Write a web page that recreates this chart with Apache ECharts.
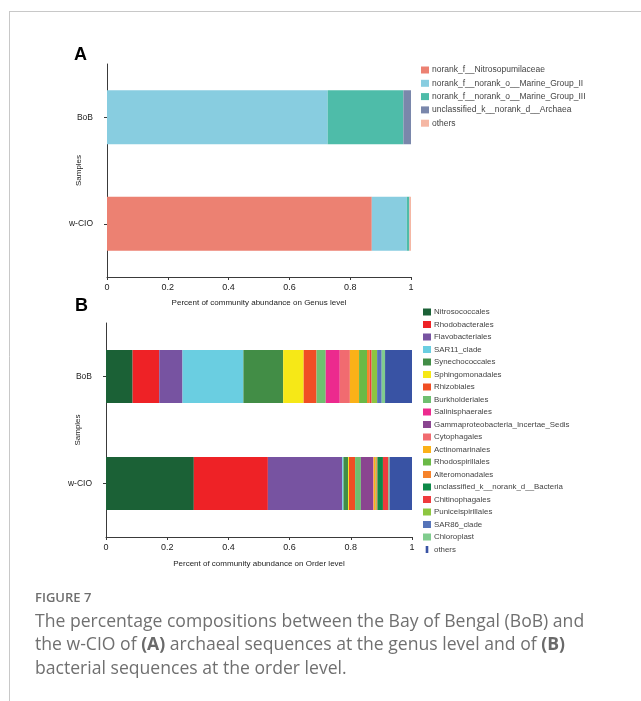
<!DOCTYPE html>
<html>
<head>
<meta charset="utf-8">
<script src="https://cdn.jsdelivr.net/npm/echarts@6/dist/echarts.min.js"></script>
<style>
  html, body { margin: 0; padding: 0; background: #fff; }
  #chart { width: 641px; height: 701px; }
</style>
</head>
<body>
<div id="chart"></div>
<script>
// Samples shown on both panels (top to bottom)
const samples = ['BoB', 'w-CIO'];
const xTicks = [0, 0.2, 0.4, 0.6, 0.8, 1];

// Panel A: archaeal genera, fraction of community per sample [BoB, w-CIO]
const genusNames = [
  'norank_f__Nitrosopumilaceae',
  'norank_f__norank_o__Marine_Group_II',
  'norank_f__norank_o__Marine_Group_III',
  'unclassified_k__norank_d__Archaea',
  'others'
];
const genusNitrosopumilaceae = [0.000, 0.871];
const genusMarineGroupII     = [0.726, 0.115];
const genusMarineGroupIII    = [0.249, 0.008];
const genusUnclassified      = [0.025, 0.001];
const genusOthers            = [0.000, 0.005];
const genusColors = ['#EC8172', '#88CDE0', '#4EBCA9', '#7A87AB', '#F5B7A4'];

// Panel B: bacterial orders, fraction of community per sample [BoB, w-CIO]
const orderNames = [
  'Nitrosococcales', 'Rhodobacterales', 'Flavobacteriales', 'SAR11_clade',
  'Synechococcales', 'Sphingomonadales', 'Rhizobiales', 'Burkholderiales',
  'Salinisphaerales', 'Gammaproteobacteria_Incertae_Sedis', 'Cytophagales',
  'Actinomarinales', 'Rhodospirillales', 'Alteromonadales',
  'unclassified_k__norank_d__Bacteria', 'Chitinophagales', 'Puniceispirillales',
  'SAR86_clade', 'Chloroplast', 'others'
];
const orderNitrosococcales   = [0.087, 0.287];
const orderRhodobacterales   = [0.087, 0.242];
const orderFlavobacteriales  = [0.076, 0.243];
const orderSAR11             = [0.199, 0.004];
const orderSynechococcales   = [0.130, 0.015];
const orderSphingomonadales  = [0.067, 0.003];
const orderRhizobiales       = [0.042, 0.020];
const orderBurkholderiales   = [0.030, 0.019];
const orderSalinisphaerales  = [0.046, 0.000];
const orderGammaIncertae     = [0.000, 0.040];
const orderCytophagales      = [0.033, 0.002];
const orderActinomarinales   = [0.030, 0.006];
const orderRhodospirillales  = [0.026, 0.002];
const orderAlteromonadales   = [0.009, 0.004];
const orderUnclassified      = [0.000, 0.018];
const orderChitinophagales   = [0.006, 0.017];
const orderPuniceispirillales= [0.018, 0.002];
const orderSAR86             = [0.015, 0.002];
const orderChloroplast       = [0.011, 0.001];
const orderOthers            = [0.088, 0.073];
const orderColors = [
  '#1B6136', '#EE2226', '#7753A1', '#6ACEE1', '#428D46', '#F6E817', '#F04E24',
  '#6FBF70', '#EC2A8E', '#8A4590', '#F16B70', '#FBB118', '#6AB946', '#F6832B',
  '#0D8948', '#EF3B3D', '#8DC640', '#5674B9', '#80CC8E', '#3953A4'
];

const genusValues = [genusNitrosopumilaceae, genusMarineGroupII, genusMarineGroupIII,
  genusUnclassified, genusOthers];
const orderValues = [orderNitrosococcales, orderRhodobacterales, orderFlavobacteriales,
  orderSAR11, orderSynechococcales, orderSphingomonadales, orderRhizobiales,
  orderBurkholderiales, orderSalinisphaerales, orderGammaIncertae, orderCytophagales,
  orderActinomarinales, orderRhodospirillales, orderAlteromonadales, orderUnclassified,
  orderChitinophagales, orderPuniceispirillales, orderSAR86, orderChloroplast, orderOthers];

const FONT = 'Liberation Sans, Arial, sans-serif';
const axisColor = '#3a3a3a';

function makeX(gridIndex, title, gap) {
  return {
    type: 'value', gridIndex: gridIndex, min: 0, max: 1, interval: 0.2,
    name: title, nameLocation: 'middle', nameGap: gap, nameMoveOverlap: false,
    nameTextStyle: { fontFamily: FONT, fontSize: 8, color: '#222' },
    axisLine: { show: true, lineStyle: { color: axisColor, width: 1 } },
    axisTick: { show: true, length: 3, lineStyle: { color: axisColor } },
    axisLabel: {
      fontFamily: FONT, fontSize: 9, color: '#222', margin: 6,
      formatter: function (v) {
        const hit = xTicks.find(t => Math.abs(t - v) < 1e-9);
        return hit === undefined ? '' : String(hit);
      }
    },
    splitLine: { show: false }
  };
}
function makeY(gridIndex) {
  return {
    type: 'category', gridIndex: gridIndex, data: samples, inverse: true,
    name: 'Samples', nameLocation: 'middle', nameGap: 24, nameRotate: 90,
    nameMoveOverlap: false,
    nameTextStyle: { fontFamily: FONT, fontSize: 8, color: '#222' },
    axisLine: { show: true, lineStyle: { color: axisColor, width: 1 } },
    axisTick: { show: true, alignWithLabel: true, length: 3, lineStyle: { color: axisColor } },
    axisLabel: { fontFamily: FONT, fontSize: 8.5, color: '#222', margin: 14 }
  };
}

const series = [];
genusNames.forEach((n, i) => {
  series.push({
    name: n, type: 'bar', stack: 'genus', xAxisIndex: 0, yAxisIndex: 0,
    barWidth: 54, data: genusValues[i],
    itemStyle: { color: genusColors[i] }, emphasis: { disabled: true }
  });
});
orderNames.forEach((n, i) => {
  series.push({
    name: n === 'others' ? 'others ' : n, type: 'bar', stack: 'order',
    xAxisIndex: 1, yAxisIndex: 1,
    barWidth: 53, data: orderValues[i],
    itemStyle: { color: orderColors[i] }, emphasis: { disabled: true }
  });
});

const option = {
  animation: false,
  backgroundColor: '#ffffff',
  grid: [
    { left: 107, top: 64, width: 304, height: 213 },
    { left: 106, top: 323, width: 306, height: 214 }
  ],
  xAxis: [
    makeX(0, 'Percent of community abundance on Genus level', 22),
    makeX(1, 'Percent of community abundance on Order level', 23)
  ],
  yAxis: [makeY(0), makeY(1)],
  legend: [
    {
      orient: 'vertical', left: 421, top: 65, padding: 0,
      itemWidth: 8, itemHeight: 7, itemGap: 3.3,
      selectedMode: false, icon: 'rect',
      textStyle: { fontFamily: FONT, fontSize: 8.5, color: '#444', lineHeight: 10, padding: [0, 0, 0, -2] },
      data: genusNames.map((n, i) => ({ name: n, itemStyle: { color: genusColors[i] } }))
    },
    {
      orient: 'vertical', left: 423, top: 307, padding: 0,
      itemWidth: 8, itemHeight: 7, itemGap: 2.5,
      selectedMode: false, icon: 'rect',
      textStyle: { fontFamily: FONT, fontSize: 7.9, color: '#444', lineHeight: 10, padding: [0, 0, 0, -2] },
      formatter: function (n) { return n.trim(); },
      data: orderNames.map((n, i) => ({
        name: n === 'others' ? 'others ' : n,
        itemStyle: { color: orderColors[i] },
        icon: n === 'others' ? 'path://M5,0h3v8h-3z' : 'rect'
      }))
    }
  ],
  graphic: [
    // card frame
    { type: 'line', shape: { x1: 9, y1: 11.5, x2: 641, y2: 11.5 }, style: { stroke: '#c8c8c8', lineWidth: 1 } },
    { type: 'line', shape: { x1: 9.5, y1: 11.5, x2: 9.5, y2: 701 }, style: { stroke: '#c8c8c8', lineWidth: 1 } },
    // panel letters
    { type: 'text', left: 74, top: 46, style: { text: 'A', fontFamily: FONT, fontSize: 18, fontWeight: 'bold', fill: '#000' } },
    { type: 'text', left: 75, top: 297, style: { text: 'B', fontFamily: FONT, fontSize: 18, fontWeight: 'bold', fill: '#000' } },
    // caption
    { type: 'text', left: 35, top: 592, style: { text: 'FIGURE 7', fontFamily: 'Open Sans', fontSize: 13, fontWeight: 600, fill: '#6f6f6f' } },
    {
      type: 'text', left: 35, top: 610,
      style: {
        text: 'The percentage compositions between the Bay of Bengal (BoB) and\nthe w-CIO of {b|(A)} archaeal sequences at the genus level and of {b|(B)}\nbacterial sequences at the order level.',
        fontFamily: 'Open Sans', fontSize: 17.6, fill: '#707070', lineHeight: 23.5,
        rich: {
          b: { fontFamily: 'Open Sans', fontSize: 17.6, fontWeight: 'bold', fill: '#6a6a6a', lineHeight: 23.5 }
        }
      }
    }
  ],
  series: series
};

const chart = echarts.init(document.getElementById('chart'), null, { renderer: 'canvas' });
chart.setOption(option);
</script>
</body>
</html>
